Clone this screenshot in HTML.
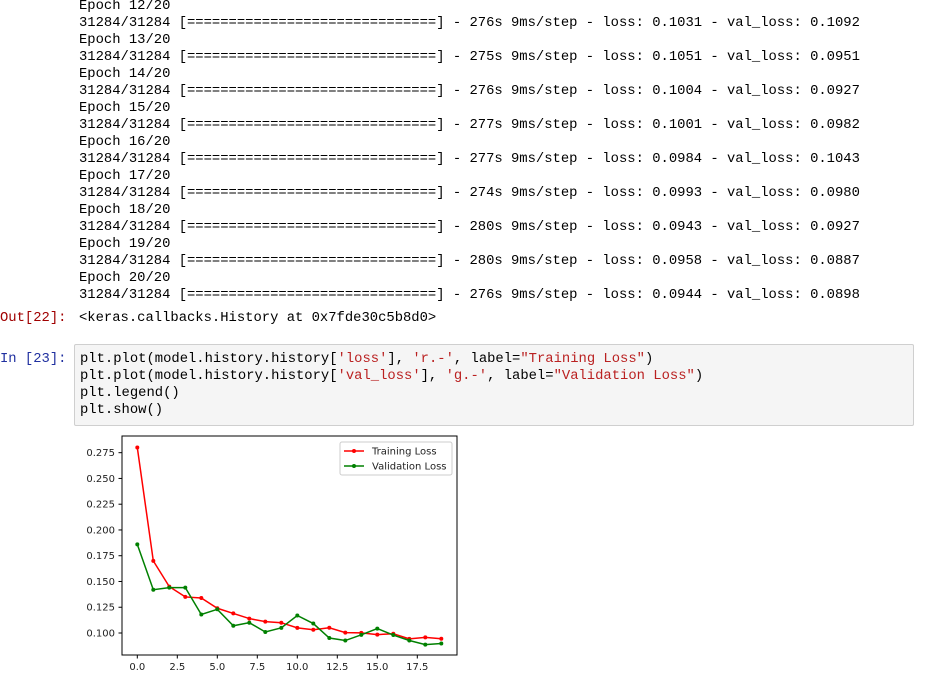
<!DOCTYPE html>
<html><head><meta charset="utf-8"><style>
body{margin:0;width:939px;height:686px;background:#fff;position:relative;overflow:hidden;font-family:"Liberation Mono",monospace;font-size:13.85px;color:#000}
.l{position:absolute;left:79px;white-space:pre;line-height:17px}
.p{position:absolute;left:0;white-space:pre;line-height:17px}
.s{color:#ba2121}
</style></head><body>
<div>
<div class="l" style="top:-2px">Epoch 12/20</div>
<div class="l" style="top:15px">31284/31284 [==============================] - 276s 9ms/step - loss: 0.1031 - val_loss: 0.1092</div>
<div class="l" style="top:32px">Epoch 13/20</div>
<div class="l" style="top:49px">31284/31284 [==============================] - 275s 9ms/step - loss: 0.1051 - val_loss: 0.0951</div>
<div class="l" style="top:66px">Epoch 14/20</div>
<div class="l" style="top:83px">31284/31284 [==============================] - 276s 9ms/step - loss: 0.1004 - val_loss: 0.0927</div>
<div class="l" style="top:100px">Epoch 15/20</div>
<div class="l" style="top:117px">31284/31284 [==============================] - 277s 9ms/step - loss: 0.1001 - val_loss: 0.0982</div>
<div class="l" style="top:134px">Epoch 16/20</div>
<div class="l" style="top:151px">31284/31284 [==============================] - 277s 9ms/step - loss: 0.0984 - val_loss: 0.1043</div>
<div class="l" style="top:168px">Epoch 17/20</div>
<div class="l" style="top:185px">31284/31284 [==============================] - 274s 9ms/step - loss: 0.0993 - val_loss: 0.0980</div>
<div class="l" style="top:202px">Epoch 18/20</div>
<div class="l" style="top:219px">31284/31284 [==============================] - 280s 9ms/step - loss: 0.0943 - val_loss: 0.0927</div>
<div class="l" style="top:236px">Epoch 19/20</div>
<div class="l" style="top:253px">31284/31284 [==============================] - 280s 9ms/step - loss: 0.0958 - val_loss: 0.0887</div>
<div class="l" style="top:270px">Epoch 20/20</div>
<div class="l" style="top:287px">31284/31284 [==============================] - 276s 9ms/step - loss: 0.0944 - val_loss: 0.0898</div>
</div>
<div class="p" style="top:310px;color:#a00000">Out[22]:</div>
<div class="l" style="top:310px">&lt;keras.callbacks.History at 0x7fde30c5b8d0&gt;</div>
<div class="p" style="top:351px;color:#2030a0">In [23]:</div>
<div style="position:absolute;left:74px;top:344px;width:838px;height:80px;background:#f5f5f5;border:1px solid #cfcfcf;border-radius:2px"></div>
<div class="l" style="top:351px;left:80px">plt.plot(model.history.history[<span class="s">'loss'</span>], <span class="s">'r.-'</span>, label=<span class="s">"Training Loss"</span>)</div>
<div class="l" style="top:368px;left:80px">plt.plot(model.history.history[<span class="s">'val_loss'</span>], <span class="s">'g.-'</span>, label=<span class="s">"Validation Loss"</span>)</div>
<div class="l" style="top:385px;left:80px">plt.legend()</div>
<div class="l" style="top:402px;left:80px">plt.show()</div>
<svg id="chart" width="939" height="686" style="position:absolute;left:0;top:0" font-family="DejaVu Sans, sans-serif" font-size="10"></svg>
<script>
const epochs=[0,1,2,3,4,5,6,7,8,9,10,11,12,13,14,15,16,17,18,19];
const trainLoss=[0.280,0.170,0.145,0.135,0.134,0.124,0.119,0.114,0.111,0.110,0.105,0.1031,0.1051,0.1004,0.1001,0.0984,0.0993,0.0943,0.0958,0.0944];
const valLoss=[0.186,0.142,0.144,0.144,0.118,0.123,0.107,0.110,0.101,0.105,0.117,0.1092,0.0951,0.0927,0.0982,0.1043,0.0980,0.0927,0.0887,0.0898];
const yTicks=[0.100,0.125,0.150,0.175,0.200,0.225,0.250,0.275];
const xTicks=[0,2.5,5,7.5,10,12.5,15,17.5];
const NS='http://www.w3.org/2000/svg';
const svg=document.getElementById('chart');
const X=v=>137.3+v*16.0;
const Y=v=>633-(v-0.1)/0.025*25.76;
function mk(t,a){const e=document.createElementNS(NS,t);for(const k in a)e.setAttribute(k,a[k]);svg.appendChild(e);return e;}
const frame=mk('rect',{x:122,y:436,width:335,height:219,fill:'none',stroke:'#000','stroke-width':1});


yTicks.forEach(v=>{
  const t=mk('line',{x1:118.5,x2:122,y1:Y(v),y2:Y(v),stroke:'#000'});
  
  
  const l=mk('text',{x:115,y:Y(v)+3.5,'text-anchor':'end',fill:'#222'});l.textContent=v.toFixed(3);
  
  
});
xTicks.forEach(v=>{
  const t=mk('line',{x1:X(v),x2:X(v),y1:655,y2:658.5,stroke:'#000'});
  
  
  const l=mk('text',{x:X(v),y:670,'text-anchor':'middle',fill:'#222'});l.textContent=v.toFixed(1);
  
  
});
function series(vals,col,name){
  const p=mk('polyline',{points:vals.map((v,i)=>X(epochs[i])+','+Y(v)).join(' '),fill:'none',stroke:col,'stroke-width':1.5});
  
  
  vals.forEach((v,i)=>{
    const c=mk('circle',{cx:X(epochs[i]),cy:Y(v),r:2,fill:col});
    
    
  });
}
series(trainLoss,'#ff0000','training-loss');
series(valLoss,'#008000','validation-loss');
const lg=mk('rect',{x:340,y:442,width:112,height:33,fill:'#fff',stroke:'#ccc',rx:2});


[['Training Loss','#ff0000',451],['Validation Loss','#008000',466]].forEach(([t,c,y])=>{
  const ln=mk('line',{x1:344,x2:364,y1:y,y2:y,stroke:c,'stroke-width':1.5});
  
  
  mk('circle',{cx:354,cy:y,r:2,fill:c});
  const tx=mk('text',{x:372,y:y+3.5,fill:'#222'});tx.textContent=t;
  
  
});
</script>
</body></html>
